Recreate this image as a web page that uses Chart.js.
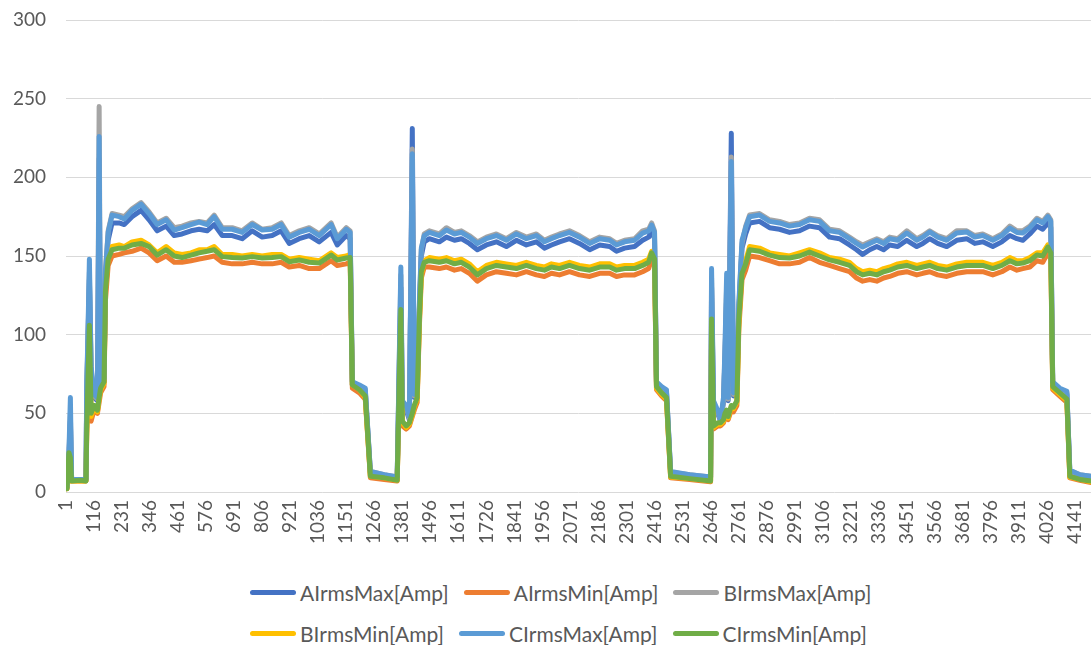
<!DOCTYPE html>
<html>
<head>
<meta charset="utf-8">
<script src="https://cdn.jsdelivr.net/npm/chart.js@4.4.1/dist/chart.umd.min.js"></script>
<style>
  html, body { margin: 0; padding: 0; background: #ffffff; }
  #wrap { position: relative; width: 1091px; height: 645px; overflow: hidden; background: #fff; }
  #c { position: absolute; left: 0; top: 0; }
  .lrow { position: absolute; left: 250px; height: 26px; display: flex; align-items: center;
          font-family: Lato, "Open Sans", sans-serif; font-size: 21px; color: #595959; white-space: nowrap; }
  .litem { display: inline-flex; align-items: center; margin-right: 15px; }
  .lsw { display: inline-block; width: 46px; height: 5px; border-radius: 3px; margin-right: 4px; }
</style>
</head>
<body>
<div id="wrap">
  <canvas id="c" width="1091" height="560"></canvas>
  <div class="lrow" id="row1" style="top:579px"></div>
  <div class="lrow" id="row2" style="top:620px"></div>
</div>
<script>
// ---- data ----
const SERIES_NAMES = ["AIrmsMax[Amp]", "AIrmsMin[Amp]", "BIrmsMax[Amp]", "BIrmsMin[Amp]", "CIrmsMax[Amp]", "CIrmsMin[Amp]"];
const SERIES_COLORS = ["#4472C4", "#ED7D31", "#A5A5A5", "#FFC000", "#5B9BD5", "#70AD47"];
const X_TICKS = [1,116,231,346,461,576,691,806,921,1036,1151,1266,1381,1496,1611,1726,1841,1956,2071,2186,2301,2416,2531,2646,2761,2876,2991,3106,3221,3336,3451,3566,3681,3796,3911,4026,4141];
const X_MAX = 4207;

// sample index (record number) of each read point
const SAMPLE = [
  1,5,13,19,24,60,83,86,91,97,104,116,130,137,143,157,163,174,190,
  219,240,272,309,342,375,412,445,477,514,547,580,609,642,683,724,765,806,847,884,917,958,999,1040,1089,1114,1151,1167,
  1176,1205,1229,1250,1307,1360,1375,1381,1397,1410,1422,1430,1442,1451,1459,1471,
  1492,1533,1562,1595,1623,1656,1689,1726,1767,1808,1849,1890,1931,1964,1993,2026,2067,2108,2150,2191,2232,2260,2293,2334,2367,2392,2404,2416,
  2424,2445,2465,2482,2560,2646,2650,2658,2675,2687,2699,2705,2712,2718,2731,2740,2754,2762,2775,2790,
  2806,2847,2888,2929,2970,3011,3052,3093,3134,3175,3216,3245,3270,3299,3328,3356,3381,3414,3451,3492,3517,3545,3578,3615,3656,3697,3730,3763,3804,3841,3874,3903,3927,3956,3985,4009,4030,4042,
  4050,4079,4108,4120,4161,4207
];

const A_MAX = [
  14,3,22,45,8,8,8,62,95,135,76,60,58,212,68,70,135,160,171,
  171,170,175,179,173,166,169,163,164,166,167,166,170,163,163,161,166,162,163,166,158,161,163,159,165,157,163,161,
  68,66,64,12,10,9,130,55,52,46,231,60,66,115,150,159,
  161,159,162,160,161,158,154,157,159,156,160,157,159,155,157,159,161,158,154,157,156,153,155,156,160,162,166,161,
  68,65,63,12,10,9,130,55,50,45,57,85,125,58,228,61,66,115,155,164,
  171,172,168,167,165,166,169,168,162,161,157,154,151,154,156,154,157,156,160,156,158,161,158,156,160,161,158,159,156,159,163,161,160,164,169,167,171,168,
  68,64,62,13,10,9
];
const A_MIN = [
  13,2,20,18,7,7,7,36,62,98,45,52,50,57,63,67,122,144,150,
  151,152,153,155,152,147,150,146,146,147,148,149,150,146,145,145,146,145,145,146,143,144,142,142,147,144,145,146,
  66,63,59,9,8,7,105,42,40,42,48,52,57,105,136,143,
  143,142,143,141,142,139,134,138,140,139,138,140,138,137,139,138,140,138,137,139,139,137,138,138,140,142,148,144,
  65,61,58,9,8,6.5,100,40,42,42,44,47,49,46,52,51,55,104,135,141,
  150,149,147,145,145,146,149,146,144,142,140,136,134,135,134,136,137,139,140,138,139,140,138,137,139,140,140,140,138,140,143,141,142,143,147,146,152,148,
  65,61,57,9,7.5,6
];
const B_MAX = [
  15,3,24,50,8,8,8,64,98,140,78,61,59,245,70,72,141,166,177,
  176,175,180,184,178,171,174,168,169,171,172,171,176,168,168,166,171,167,168,171,163,166,168,164,171,162,168,166,
  70,67,65,13,11,9.5,138,56,54,47,218,61,67,118,154,164,
  166,164,168,165,166,163,159,162,164,161,165,162,164,160,162,164,166,163,159,162,161,158,160,161,166,167,171,166,
  69,66,64,12.5,11,9.5,136,56,51,46,58,88,132,59,213,62,67,118,158,169,
  176,177,173,172,170,171,174,173,167,166,162,159,157,159,161,159,162,161,166,161,163,166,163,161,166,166,163,164,161,164,169,166,166,169,174,172,176,173,
  69,65,63,13.5,11,10
];
const B_MIN = [
  14,2,22,20,7,7,7,38,66,102,48,54,51,59,65,69,130,149,156,
  157,156,159,160,157,152,156,152,151,152,154,154,156,151,151,150,151,150,151,151,148,149,148,147,152,149,150,151,
  68,65,60,10,9,7.5,110,44,41,43,49,54,59,108,138,147,
  149,148,149,147,148,145,140,144,146,145,144,146,144,143,145,144,146,144,143,145,145,143,144,144,146,148,153,149,
  66,62,59,9.5,8.5,7,105,41,43,43,45,49,51,47,54,53,57,108,140,147,
  156,155,152,151,150,152,154,152,149,148,146,142,140,141,140,142,143,145,146,144,145,146,144,143,145,146,146,146,144,146,149,147,147,149,152,152,157,154,
  66,62,58,9.5,8,6.5
];
const C_MAX = [
  16,3,25,60,8,8,8,68,100,148,80,62,60,226,70,72,140,165,176,
  175,173.5,179,183,177,170,173,166.5,168,170,171.5,170,175,167,167,165,170,166.5,167,170,162,165,167,163,170,161,167,165,
  70,68,66,13,11,9.5,143,58,55,48,215,62,68,120,155,163,
  165,163,166.5,164,165,162,158,161,163,160,164,161,163,159,161,163,165,162,158,161,160,157,159,160,164.6,166,169.7,165,
  70,67,65,13,11,9.5,142,58,52,46,60,92,139,60,210,63,68,120,160,168,
  175,176,172,171,169,170,173,172,166,165,161,158,155.7,158,160,158,161,160,164.6,160,162,165.3,162,160,164.6,165.3,162,163,160,163,167.7,165,164.6,168,173,171,175,172,
  70,66,64,14,11,10
];
const C_MIN = [
  14,2,25,22,7,7.5,7,40,70,106,50,55,52,60,66,70,128,148,154,
  155,155,157,158,156,150.6,154,150,149,150.6,152,153,154,149.6,149,148.7,149.6,148.7,149,149.6,146.4,147.5,146,145.5,150.6,147.5,148.7,149,
  68,65,61,10,9,7.5,116,45,42,44,50,55,60,110,140,146,
  147,146,147,145,146,143,138,142,144,143,142,144,142,141,143,142,144,142,141,143,143,141,142,142,144,146,152,148,
  67,63,60,10,8.5,7,110,42,44,44,46,50,52,48,55,54,58,110,139,145,
  154,153,150.6,149,148.7,150,152.5,150,147.5,146,144,140,138,139,138,140,141,143,144,142,143,144,142,141,143,144,144,144,142,144,147,145,145.5,147,150.6,150,155.7,152,
  67,63,59,10,8,7
];

const SERIES_VALUES = [A_MAX, A_MIN, B_MAX, B_MIN, C_MAX, C_MIN];

const datasets = SERIES_NAMES.map((name, i) => ({
  label: name,
  data: SAMPLE.map((x, k) => ({ x: x, y: SERIES_VALUES[i][k] })),
  borderColor: SERIES_COLORS[i],
  backgroundColor: SERIES_COLORS[i],
  borderWidth: 5,
  borderCapStyle: 'round',
  borderJoinStyle: 'round',
  pointRadius: 0,
  pointHoverRadius: 0,
  tension: 0,
  fill: false,
  order: SERIES_NAMES.length - 1 - i
}));

const FONT = { family: 'Lato, "Open Sans", sans-serif', size: 19 };

new Chart(document.getElementById('c'), {
  type: 'line',
  data: { datasets: datasets },
  options: {
    responsive: false,
    animation: false,
    devicePixelRatio: 1,
    layout: { padding: { top: 20, left: 0, right: 0, bottom: 0 } },
    plugins: { legend: { display: false }, tooltip: { enabled: false } },
    scales: {
      x: {
        type: 'linear',
        min: 1,
        max: X_MAX,
        afterBuildTicks: (s) => { s.ticks = X_TICKS.map(v => ({ value: v })); },
        afterFit: (s) => { s.height = 68; s.paddingLeft = 0; s.paddingRight = 0; },
        ticks: {
          autoSkip: false,
          maxRotation: 90,
          minRotation: 90,
          padding: 8,
          color: '#595959',
          font: FONT,
          callback: (v) => String(v)
        },
        grid: { display: false, drawTicks: false },
        border: { display: false }
      },
      y: {
        min: 0,
        max: 300,
        afterFit: (s) => { s.width = 66; s.paddingTop = 0; s.paddingBottom = 0; },
        ticks: { stepSize: 50, padding: 20, color: '#595959', font: FONT },
        grid: { color: '#D9D9D9', lineWidth: 1, drawTicks: false },
        border: { display: false }
      }
    }
  }
});

// legend (two rows of three, like the reference)
const rows = [document.getElementById('row1'), document.getElementById('row2')];
SERIES_NAMES.forEach((name, i) => {
  const item = document.createElement('span');
  item.className = 'litem';
  const sw = document.createElement('span');
  sw.className = 'lsw';
  sw.style.background = SERIES_COLORS[i];
  const t = document.createElement('span');
  t.textContent = name;
  item.appendChild(sw);
  item.appendChild(t);
  rows[i < 3 ? 0 : 1].appendChild(item);
});
</script>
</body>
</html>
